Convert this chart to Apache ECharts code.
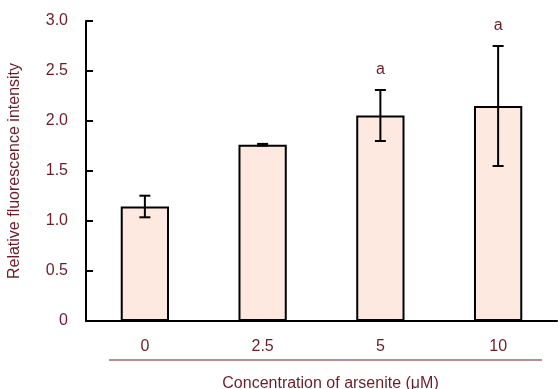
<!DOCTYPE html>
<html><head><meta charset="utf-8">
<script src="https://cdn.jsdelivr.net/npm/echarts@6/dist/echarts.min.js"></script>
<style>html,body{margin:0;padding:0;background:#fff}#c{width:558px;height:389px}</style>
</head><body><div id="c"></div>
<script>
const categories = ['0', '2.5', '5', '10'];
const means = [1.145, 1.763, 2.055, 2.15];
const errors = [0.108, 0.008, 0.255, 0.60];
const marks = ['', '', 'a', 'a'];
const yTicks = [0, 0.5, 1.0, 1.5, 2.0, 2.5, 3.0];

const textColor = '#6b1e28';
const font = 'Liberation Sans, Arial, sans-serif';
const fs = 16;
const chart = echarts.init(document.getElementById('c'));
chart.setOption({
  animation: false,
  grid: {left: 86, right: 1, top: 21, bottom: 68, containLabel: false, outerBoundsMode: 'none'},
  xAxis: {
    type: 'category', data: categories,
    axisLine: {lineStyle: {color: '#000', width: 2}},
    axisTick: {inside: true, length: 7, lineStyle: {color: '#000', width: 2}},
    axisLabel: {color: textColor, fontSize: fs, fontFamily: font, margin: 18},
    name: 'Concentration of arsenite (μM)', nameLocation: 'middle', nameGap: 55,
    nameTextStyle: {color: textColor, fontSize: fs, fontFamily: font, padding: [0, 0, 0, 18]}
  },
  yAxis: {
    type: 'value', min: yTicks[0], max: yTicks[yTicks.length - 1], interval: 0.5,
    splitLine: {show: false},
    axisLine: {show: true, lineStyle: {color: '#000', width: 2}},
    axisTick: {show: true, inside: true, length: 7, lineStyle: {color: '#000', width: 2}},
    axisLabel: {color: textColor, fontSize: fs, fontFamily: font, margin: 18,
      formatter: v => v === 0 ? '0' : v.toFixed(1)},
    name: 'Relative fluorescence intensity', nameLocation: 'middle', nameGap: 63,
    nameTextStyle: {color: textColor, fontSize: fs, fontFamily: font}
  },
  graphic: [{type: 'line', shape: {x1: 109, y1: 360, x2: 542, y2: 360},
    style: {stroke: textColor, lineWidth: 1}}],
  series: [{
    type: 'bar', data: means, barWidth: '41%',
    itemStyle: {color: '#fee9e1', borderColor: '#000', borderWidth: 2}
  }, {
    type: 'custom',
    data: means.map((m, i) => [i, m - errors[i], m + errors[i]]),
    renderItem: (params, api) => {
      const lo = api.coord([api.value(0), api.value(1)]);
      const hi = api.coord([api.value(0), api.value(2)]);
      const w = 5.5;
      const children = [
        {type: 'line', shape: {x1: hi[0], y1: hi[1], x2: lo[0], y2: lo[1]}, style: {stroke: '#000', lineWidth: 2}},
        {type: 'line', shape: {x1: hi[0] - w, y1: hi[1], x2: hi[0] + w, y2: hi[1]}, style: {stroke: '#000', lineWidth: 2}},
        {type: 'line', shape: {x1: lo[0] - w, y1: lo[1], x2: lo[0] + w, y2: lo[1]}, style: {stroke: '#000', lineWidth: 2}}
      ];
      const mk = marks[params.dataIndex];
      if (mk) children.push({type: 'text', style: {text: mk, x: hi[0], y: hi[1] - 20, textAlign: 'center', textVerticalAlign: 'middle', fill: textColor, font: fs + 'px ' + font}});
      return {type: 'group', children};
    },
    z: 5
  }]
});
</script></body></html>
